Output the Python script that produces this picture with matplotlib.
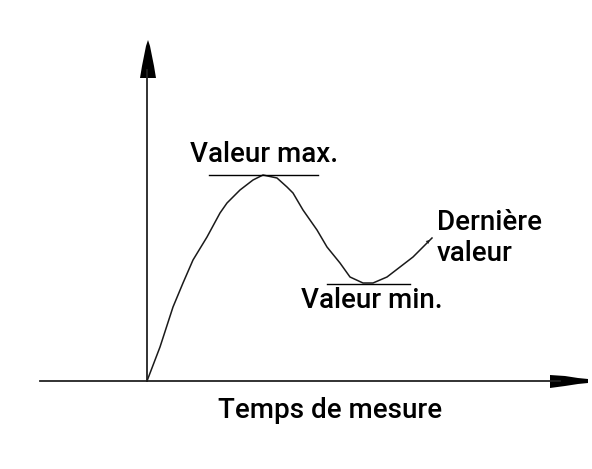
import numpy as np
import matplotlib.pyplot as plt

# curve (pixel space, y downwards)
curve_x = [147, 160, 173, 183, 193, 207, 220, 227, 240, 253, 263, 277, 287, 293, 303, 317, 327, 340, 350, 363, 373, 387, 400, 413, 432]
curve_y = [381, 347, 307, 283, 260, 237, 213, 203, 190, 180, 175, 178, 187, 193, 210, 230, 247, 263, 277, 283, 283, 277, 267, 257, 238]

max_label = 'Valeur max.'
min_label = 'Valeur min.'
last_label = 'Dernière\nvaleur'
x_label = 'Temps de mesure'

plt.rcParams['font.family'] = ['Roboto', 'DejaVu Sans']

fig = plt.figure(figsize=(5.92, 4.69), dpi=100)
ax = fig.add_axes([0, 0, 1, 1])
ax.set_xlim(0, 592)
ax.set_ylim(469, 0)
ax.axis('off')

# axes lines
ax.plot([40, 560], [381, 381], color='#222222', lw=1.3)
ax.plot([147, 147], [381, 70], color='#222222', lw=1.3)
# stepped arrow heads
ax.fill([140, 156, 154, 152, 150, 148, 146, 144, 142], [78, 78, 66, 56, 46, 40, 46, 56, 66], color='black', lw=0)
ax.fill([550, 565, 578, 588, 588, 578, 565, 550], [375, 376, 378, 379, 383, 384, 386, 388], color='black', lw=0)

# curve
ax.plot(curve_x, curve_y, color='#1a1a1a', lw=1.1)
ax.annotate('', xy=(curve_x[-1], curve_y[-1]), xytext=(curve_x[-3], curve_y[-3]),
            arrowprops=dict(arrowstyle='-|>', color='#1a1a1a', lw=0, mutation_scale=7))

# min / max markers
ax.plot([209, 318], [min(curve_y), min(curve_y)], color='black', lw=1)
ax.plot([327, 410], [max(curve_y[5:]) + 1, max(curve_y[5:]) + 1], color='black', lw=1)

ax.text(264, 155, max_label, fontsize=20, fontweight='medium', ha='center', va='center')
ax.text(372, 300, min_label, fontsize=20, fontweight='medium', ha='center', va='center')
ax.text(437, 238, last_label, fontsize=20, fontweight='medium', ha='left', va='center', linespacing=1.15)
ax.text(330, 411, x_label, fontsize=20, fontweight='medium', ha='center', va='center')

fig.savefig('out.png', dpi=100)
